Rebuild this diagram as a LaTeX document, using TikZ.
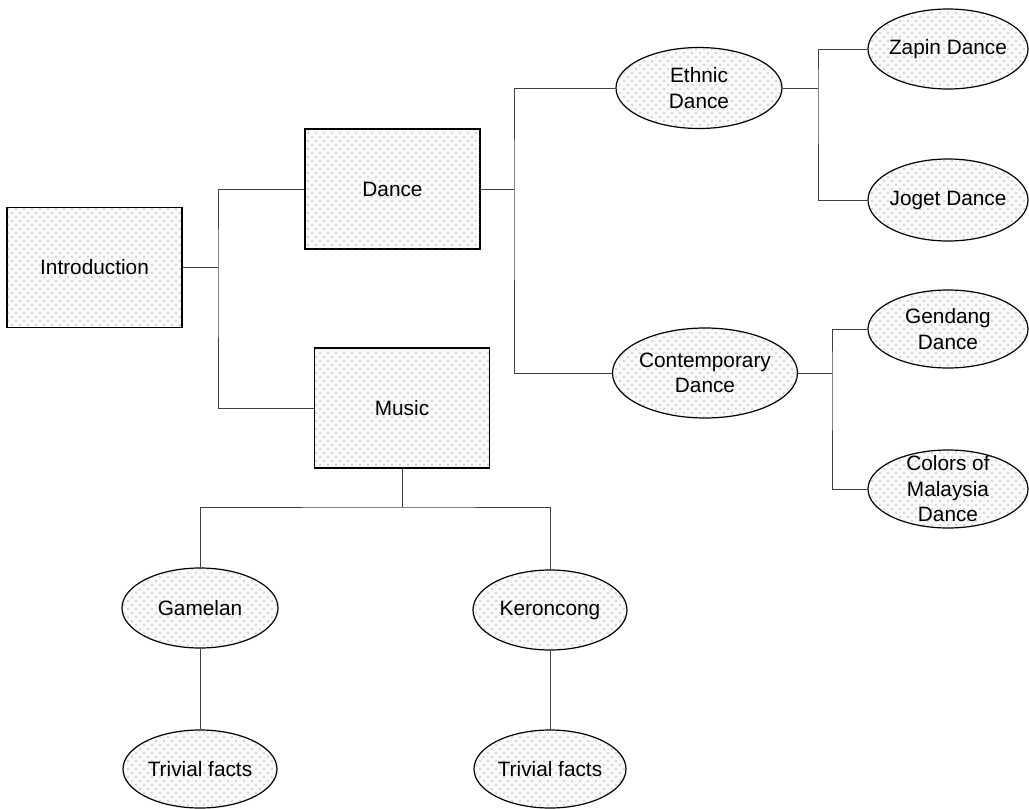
\documentclass[tikz,border=0pt]{standalone}
\usepackage{fontspec}
\setmainfont{Liberation Sans}
\usetikzlibrary{shapes.geometric,patterns.meta}

% sparse stipple used as the shading of every box and ellipse
\tikzdeclarepattern{
  name=stipple,
  type=uncolored,
  bottom left={(-.5pt,-.5pt)},
  top right={(4.5pt,4.5pt)},
  tile size={(4pt,4pt)},
  code={
    \fill (0pt,0pt) circle (0.36pt);
    \fill (2pt,2pt) circle (0.36pt);
  }
}

\begin{document}
\begin{tikzpicture}[x=0.5pt,y=-0.5pt,
  shade/.style={fill=gray!5, postaction={pattern=stipple, pattern color=black!60}},
  topic/.style={rectangle, draw=black, line width=0.7pt, inner sep=0pt, shade,
    minimum width=87.5pt, minimum height=60pt,
    font=\fontsize{10.4}{12.75}\selectfont},
  leaf/.style={ellipse, draw=black, line width=0.6pt, inner sep=0pt, shade},
  lab/.style={align=center, inner sep=0pt, font=\fontsize{10.4}{12.75}\selectfont},
  link/.style={draw=black!75, line width=0.45pt}]

\useasboundingbox (0,0) rectangle (1029,809);

% main topics
\node[topic] (intro) at (94.5,267.5) {Introduction};
\node[topic] (dance) at (392.5,189) {Dance};
\node[topic] (music) at (402,408) {Music};

% dance branch
\node[leaf, minimum width=83pt, minimum height=40.5pt] (ethnic) at (699,88) {};
\node[lab] (ethnicT) at (ethnic) {Ethnic\\Dance};
\node[leaf, minimum width=92.5pt, minimum height=45pt] (contemp) at (705,373) {};
\node[lab] (contempT) at (contemp) {Contemporary\\Dance};

\node[leaf, minimum width=80pt, minimum height=40pt] (zapin) at (948,49) {};
\node[lab] (zapinT) at (zapin) {Zapin Dance};
\node[leaf, minimum width=80pt, minimum height=41pt] (joget) at (948,200) {};
\node[lab] (jogetT) at (joget) {Joget Dance};
\node[leaf, minimum width=80pt, minimum height=39pt] (gendang) at (948,329) {};
\node[lab] (gendangT) at (gendang) {Gendang\\Dance};
\node[leaf, minimum width=80pt, minimum height=39pt] (colors) at (948,489) {};
\node[lab] (colorsT) at (colors) {Colors of\\Malaysia\\Dance};

% music branch
\node[leaf, minimum width=78pt, minimum height=40pt] (gamelan) at (200,608) {};
\node[lab] (gamelanT) at (gamelan) {Gamelan};
\node[leaf, minimum width=77pt, minimum height=40pt] (keroncong) at (550,610) {};
\node[lab] (keroncongT) at (keroncong) {Keroncong};
\node[leaf, minimum width=77pt, minimum height=39pt] (trivA) at (200,769) {};
\node[lab] (trivAT) at (trivA) {Trivial facts};
\node[leaf, minimum width=76pt, minimum height=39pt] (trivB) at (550,769) {};
\node[lab] (trivBT) at (trivB) {Trivial facts};

% junction points of the bracket connectors
\coordinate (j1) at (218,267.5);
\coordinate (j2) at (514,189);
\coordinate (j3) at (818,88);
\coordinate (j4) at (832,373);
\coordinate (j5) at (402,507);

\draw[link] (intro.east) -- (j1);
\draw[link] (dance.west) -| (j1) |- (music.west);

\draw[link] (dance.east) -- (j2);
\draw[link] (ethnic.west) -| (j2) |- (contemp.west);

\draw[link] (ethnic.east) -- (j3);
\draw[link] (zapin.west) -| (j3) |- (joget.west);

\draw[link] (contemp.east) -- (j4);
\draw[link] (gendang.west) -| (j4) |- (colors.west);

\draw[link] (music.south) -- (j5);
\draw[link] (gamelan.north) |- (j5) -| (keroncong.north);

\draw[link] (gamelan.south) -- (trivA.north);
\draw[link] (keroncong.south) -- (trivB.north);
\end{tikzpicture}
\end{document}
